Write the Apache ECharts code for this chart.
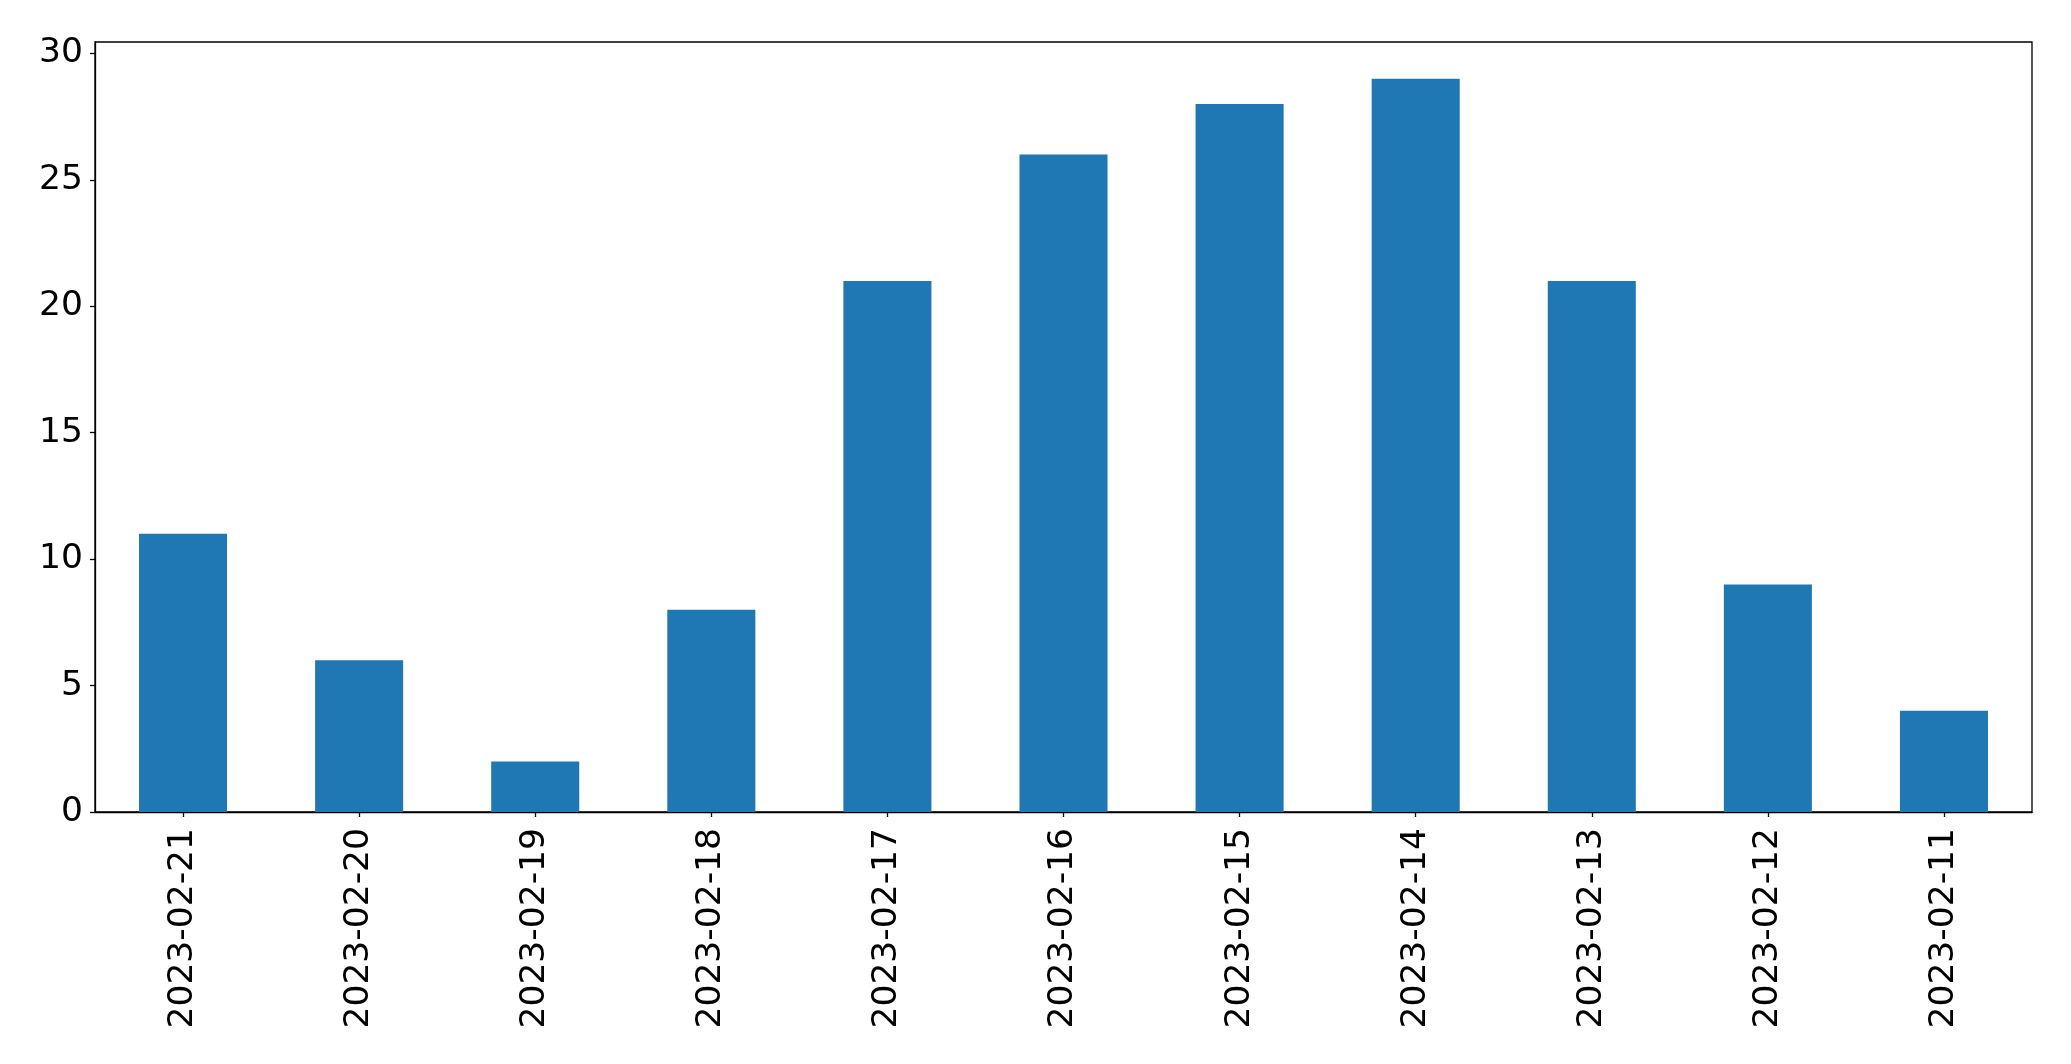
<!DOCTYPE html>
<html>
<head>
<meta charset="utf-8">
<script src="https://cdn.jsdelivr.net/npm/echarts@6/dist/echarts.min.js"></script>
<style>
html,body{margin:0;padding:0;background:#fff;}
#chart{width:2071px;height:1064px;}
</style>
</head>
<body>
<div id="chart"></div>
<script>
const categories = ["2023-02-21","2023-02-20","2023-02-19","2023-02-18","2023-02-17","2023-02-16","2023-02-15","2023-02-14","2023-02-13","2023-02-12","2023-02-11"];
const values = [11, 6, 2, 8, 21, 26, 28, 29, 21, 9, 4];
const yTicks = [0, 5, 10, 15, 20, 25, 30];

const chart = echarts.init(document.getElementById('chart'), null, {renderer: 'canvas'});
const font = 'DejaVu Sans';
chart.setOption({
  animation: false,
  backgroundColor: '#ffffff',
  grid: {
    left: 95, right: 39, top: 42, bottom: 252,
    show: true, borderColor: '#000000', borderWidth: 1.3, backgroundColor: 'transparent'
  },
  xAxis: {
    type: 'category',
    data: categories,
    boundaryGap: true,
    axisLine: {show: true, lineStyle: {color: '#000', width: 1.3}},
    axisTick: {show: true, alignWithLabel: true, length: 5, lineStyle: {color: '#000', width: 1.3}},
    axisLabel: {rotate: 90, fontSize: 34.5, fontFamily: font, color: '#000', margin: 16, interval: 0}
  },
  yAxis: {
    type: 'value',
    min: 0, max: 30.45, interval: 5,
    splitLine: {show: false},
    axisLine: {show: true, lineStyle: {color: '#000', width: 1.3}},
    axisTick: {show: true, length: 5, lineStyle: {color: '#000', width: 1.3}},
    axisLabel: {
      fontSize: 34.5, fontFamily: font, color: '#000', margin: 12,
      padding: [6, 0, 0, 0],
      showMaxLabel: false,
      formatter: function (v) { return yTicks.indexOf(v) >= 0 ? String(v) : ''; }
    }
  },
  series: [{
    type: 'bar',
    data: values,
    barWidth: '50%',
    itemStyle: {color: '#1f77b4'}
  }]
});
</script>
</body>
</html>
